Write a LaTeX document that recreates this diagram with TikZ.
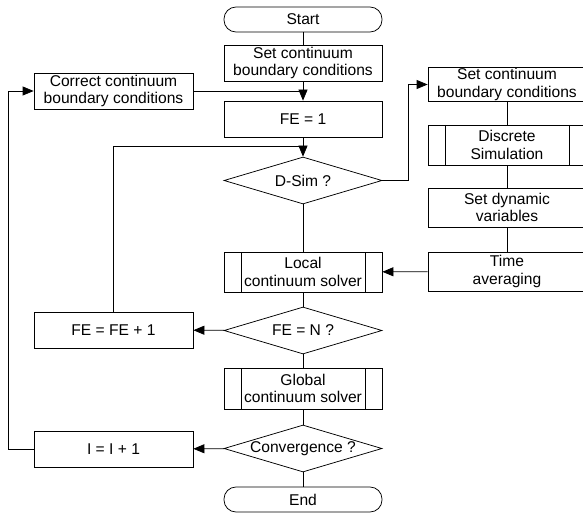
\documentclass[tikz,border=0pt]{standalone}
\usepackage{fontspec}
\setmainfont{Liberation Sans}
\usetikzlibrary{shapes.geometric,arrows.meta}

\tikzset{
    box/.style={draw, rectangle, minimum width=158pt, minimum height=36pt, align=center, inner sep=1pt},
    sub/.style={box, path picture={
        \draw ([xshift=17pt]path picture bounding box.north west) -- ([xshift=17pt]path picture bounding box.south west);
        \draw ([xshift=-17pt]path picture bounding box.north east) -- ([xshift=-17pt]path picture bounding box.south east);}},
    term/.style={draw, rectangle, rounded corners=12pt, minimum width=158pt, minimum height=25pt, inner sep=1pt},
    dec/.style={draw, diamond, aspect=3.36, inner sep=0pt, minimum width=158pt, minimum height=47pt},
    arr/.style={-{Triangle[length=11pt,width=9pt]}}
}

\begin{document}
\begin{tikzpicture}[x=1pt,y=-1pt,line width=0.75pt,font=\fontsize{15.6}{17.6}\selectfont]

                    \useasboundingbox (0,0) rectangle (583,513);

                    % main column
                    \node[term] (start) at (303,19.5) {Start};
                    \node[box] (setbc) at (303,63) {Set continuum\\boundary conditions};
                    \node[box] (fe1) at (303,119) {FE = 1};
                    \node[dec] (dsim) at (303,180.5) {D-Sim ?};
                    \node[sub, minimum height=40pt] (local) at (303,272) {Local\\continuum solver};
                    \node[dec] (fen) at (303,330.5) {FE = N ?};
                    \node[sub, minimum height=41pt] (global) at (303,388.5) {Global\\continuum solver};
                    \node[dec] (conv) at (303,448.5) {Convergence ?};
                    \node[term] (end) at (303,499.5) {End};

                    % left column
                    \node[box, minimum width=159pt] (corr) at (113.5,91) {Correct continuum\\boundary conditions};
                    \node[box, minimum width=159pt] (feinc) at (113.5,330) {FE = FE + 1};
                    \node[box, minimum width=159pt] (iinc) at (113.5,449) {I = I + 1};

                    % right column (discrete part)
                    \node[box, minimum height=33pt] (rset) at (507,84.5) {Set continuum\\boundary conditions};
                    \node[sub, minimum height=40pt] (disc) at (507,145) {Discrete\\Simulation};
                    \node[box, minimum height=39pt] (dyn) at (507,207.5) {Set dynamic\\variables};
                    \node[box, minimum height=39pt] (tavg) at (507,271.5) {Time\\averaging};

                    % joins
                    \coordinate (bcjoin) at (303,91);
                    \coordinate (fejoin) at (303,146);

                    % connectors
                    \draw (start) -- (setbc);
                    \draw[arr] (setbc) -- (fe1);
                    \draw (corr.east) -- (bcjoin);
                    \draw[arr] (fe1) -- (dsim);
                    \draw (feinc) |- (fejoin);
                    \draw[arr] (dsim.east) -- ++(26,0) |- (rset.west);
                    \draw (dsim) -- (local);
                    \draw (rset) -- (disc);
                    \draw (disc) -- (dyn);
                    \draw (dyn) -- (tavg);
                    \draw[arr] (tavg) -- (local);
                    \draw (local) -- (fen);
                    \draw[arr] (fen) -- (feinc);
                    \draw (fen) -- (global);
                    \draw (global) -- (conv);
                    \draw[arr] (conv) -- (iinc);
                    \draw (conv) -- (end);
                    \draw[arr] (iinc.west) -- ++(-25,0) |- (corr.west);

\end{tikzpicture}
\end{document}
